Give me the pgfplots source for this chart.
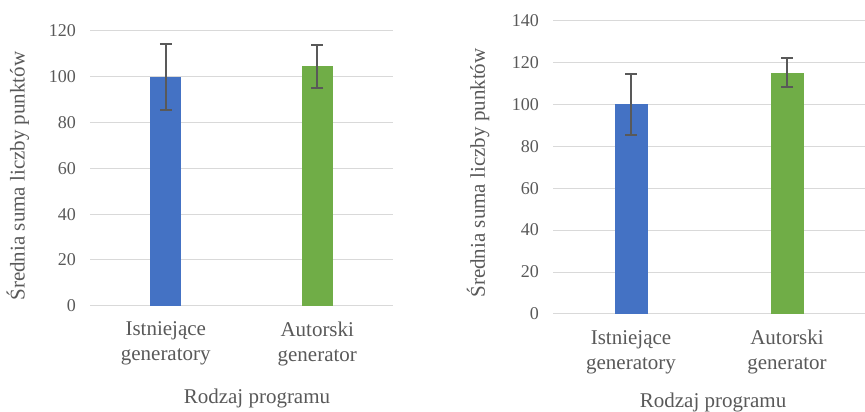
\documentclass[border=0pt]{standalone}
\usepackage{pgfplots}
\pgfplotsset{compat=1.18}
\usepackage{fontspec}
\setmainfont{LiberationSerif-Regular.ttf}
\definecolor{cblue}{HTML}{4472C4}
\definecolor{cgreen}{HTML}{70AD47}
\definecolor{txt}{HTML}{595959}
\definecolor{gridc}{HTML}{D9D9D9}
\pgfplotsset{
  mystyle/.style={
    scale only axis,
    ybar, ymin=0,
    xmin=-0.5, xmax=1.5,
    xtick={0,1},
    xticklabels={{Istniejące\\generatory},{Autorski\\generator}},
    axis line style={draw=none},
    major tick length=0pt,
    ymajorgrids,
    grid style={draw=gridc, line width=1pt},
    /pgf/number format/assume math mode=true,
    yticklabel style={font=\rmfamily\fontsize{18}{21}\selectfont, text=txt, inner sep=0pt, anchor=east, xshift=-14pt},
    xticklabel style={font=\rmfamily\fontsize{21}{25}\selectfont, text=txt, inner sep=0pt, anchor=north, align=center, yshift=-16pt},
    label style={font=\rmfamily\fontsize{21}{25}\selectfont, text=txt},
    ylabel={Średnia suma liczby punktów},
    xlabel={Rodzaj programu},
    error bars/y dir=both, error bars/y explicit,
    error bars/error bar style={draw=txt, line width=2pt},
    error bars/error mark options={rotate=90, mark size=6pt, line width=2pt, draw=txt},
  }
}
\begin{document}
\begin{tikzpicture}[x=1pt,y=1pt]
\useasboundingbox (0,0) rectangle (865,412);
\begin{axis}[mystyle,
  at={(90pt,106.3pt)}, anchor=south west,
  width=303pt, height=274.7pt,
  ymax=120, ytick={0,20,...,120},
  bar width=31pt,
  ylabel style={at={(axis description cs:-0.238,0.472)}, anchor=center},
  xlabel style={at={(axis description cs:0.551,-0.336)}, anchor=center},
]
\addplot[fill=cblue, draw=none, bar shift=0pt] coordinates {(0,100) +- (0,14.5)};
\addplot[fill=cgreen, draw=none, bar shift=0pt] coordinates {(1,104.5) +- (0,9.2)};
\end{axis}
\begin{axis}[mystyle,
  at={(553pt,98pt)}, anchor=south west,
  width=312pt, height=293.7pt,
  ymax=140, ytick={0,20,...,140},
  bar width=33pt,
  ylabel style={at={(axis description cs:-0.240,0.48)}, anchor=center},
  xlabel style={at={(axis description cs:0.513,-0.30)}, anchor=center},
]
\addplot[fill=cblue, draw=none, bar shift=0pt] coordinates {(0,100) +- (0,14.5)};
\addplot[fill=cgreen, draw=none, bar shift=0pt] coordinates {(1,115) +- (0,7)};
\end{axis}
\end{tikzpicture}
\end{document}
